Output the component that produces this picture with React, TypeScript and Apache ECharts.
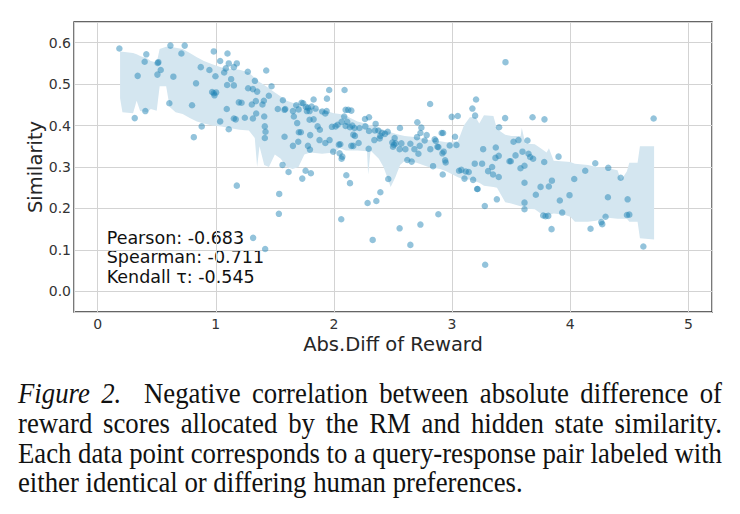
import React, { useEffect, useRef } from "react";
import * as echarts from "echarts";

// ---------------- data ----------------
const rewardDiff = [
  0.184, 0.412, 0.398, 0.514, 0.508, 0.534, 0.506, 0.339, 0.314, 0.404,
  0.616, 0.737, 0.709, 0.641, 0.607, 0.799, 0.814, 0.881, 0.833, 0.873,
  0.946, 0.983, 0.997, 0.969, 0.983, 1.003, 0.989, 1.037, 1.071, 1.099,
  1.11, 1.085, 1.153, 1.178, 1.13, 1.096, 1.153, 1.093, 1.037, 1.11,
  1.153, 1.169, 1.178, 1.195, 1.218, 1.246, 1.271, 1.274, 1.314, 1.35,
  1.331, 1.305, 1.339, 1.314, 1.342, 1.407, 1.395, 1.427, 1.472, 1.449,
  1.41, 1.415, 1.421, 1.415, 1.316, 1.418, 1.525, 1.568, 1.582, 1.588,
  1.582, 1.565, 1.616, 1.537, 1.534, 1.653, 1.661, 1.681, 1.701, 1.653,
  1.698, 1.703, 1.72, 1.689, 1.726, 1.74, 1.763, 1.78, 1.771, 1.794,
  1.811, 1.828, 1.845, 1.794, 1.828, 1.799, 1.78, 1.797, 1.76, 1.805,
  1.732, 1.862, 1.881, 1.901, 1.938, 1.927, 1.941, 1.96, 1.878, 1.927,
  1.963, 1.983, 2.014, 2.031, 1.994, 2.042, 2.054, 2.048, 2.065, 2.071,
  2.09, 2.065, 2.087, 2.099, 2.121, 2.147, 2.113, 2.099, 2.136, 2.155,
  2.175, 2.164, 2.178, 2.147, 2.164, 2.105, 2.136, 2.062, 2.209, 2.216,
  2.263, 2.297, 2.266, 2.297, 2.294, 2.285, 2.359, 2.328, 2.353, 2.347,
  2.342, 2.376, 2.393, 2.387, 2.407, 2.432, 2.455, 2.393, 2.46, 2.494,
  2.514, 2.5, 2.523, 2.508, 2.559, 2.571, 2.556, 2.605, 2.621, 2.658,
  2.647, 2.681, 2.703, 2.715, 2.732, 2.74, 2.706, 2.726, 2.768, 2.785,
  2.816, 2.814, 2.853, 2.862, 2.876, 2.839, 2.884, 2.912, 2.924, 2.918,
  2.929, 2.941, 2.946, 2.921, 2.98, 3.025, 3.037, 2.997, 3.048, 3.059,
  3.079, 3.116, 3.141, 3.105, 3.178, 3.212, 3.216, 3.192, 3.254, 3.172,
  3.195, 3.203, 3.263, 3.305, 3.339, 3.347, 3.395, 3.367, 3.37, 3.395,
  3.398, 3.449, 3.452, 3.277, 3.379, 3.28, 3.486, 3.497, 3.52, 3.537,
  3.562, 3.579, 3.596, 3.613, 3.613, 3.613, 3.613, 3.638, 3.647, 3.661,
  3.686, 3.681, 3.709, 3.749, 3.78, 3.782, 3.771, 3.791, 3.814, 3.819,
  3.845, 3.842, 3.901, 3.912, 3.932, 3.994, 4.034, 4.127, 4.172, 4.212,
  4.263, 4.271, 4.299, 4.322, 4.319, 4.427, 4.486, 4.48, 4.5, 4.619,
  4.706, 2.556, 2.647, 2.732, 2.884,
];

const similarity = [
  0.586, 0.572, 0.554, 0.553, 0.551, 0.534, 0.523, 0.52, 0.418, 0.435,
  0.593, 0.593, 0.574, 0.518, 0.454, 0.449, 0.372, 0.398, 0.502, 0.541,
  0.534, 0.579, 0.519, 0.481, 0.478, 0.48, 0.473, 0.556, 0.528, 0.574,
  0.55, 0.538, 0.541, 0.55, 0.512, 0.498, 0.497, 0.44, 0.41, 0.391,
  0.417, 0.415, 0.255, 0.456, 0.455, 0.419, 0.53, 0.49, 0.488, 0.482,
  0.508, 0.451, 0.459, 0.417, 0.429, 0.46, 0.451, 0.533, 0.495, 0.472,
  0.422, 0.398, 0.385, 0.37, 0.129, 0.102, 0.44, 0.461, 0.438, 0.44,
  0.373, 0.305, 0.288, 0.235, 0.187, 0.435, 0.422, 0.449, 0.439, 0.351,
  0.361, 0.384, 0.384, 0.406, 0.455, 0.454, 0.445, 0.443, 0.435, 0.435,
  0.446, 0.463, 0.441, 0.414, 0.415, 0.377, 0.351, 0.342, 0.291, 0.285,
  0.272, 0.398, 0.39, 0.434, 0.435, 0.429, 0.465, 0.486, 0.365, 0.358,
  0.365, 0.397, 0.398, 0.402, 0.337, 0.354, 0.355, 0.333, 0.32, 0.325,
  0.486, 0.409, 0.422, 0.438, 0.438, 0.436, 0.409, 0.399, 0.396, 0.4,
  0.394, 0.378, 0.375, 0.351, 0.351, 0.28, 0.261, 0.174, 0.358, 0.394,
  0.416, 0.42, 0.398, 0.387, 0.344, 0.213, 0.218, 0.124, 0.404, 0.388,
  0.365, 0.388, 0.375, 0.369, 0.382, 0.38, 0.385, 0.239, 0.271, 0.359,
  0.37, 0.349, 0.357, 0.354, 0.394, 0.357, 0.343, 0.343, 0.317, 0.313,
  0.356, 0.343, 0.372, 0.332, 0.382, 0.395, 0.408, 0.351, 0.364, 0.377,
  0.343, 0.452, 0.367, 0.363, 0.349, 0.302, 0.348, 0.382, 0.382, 0.333,
  0.337, 0.316, 0.311, 0.282, 0.352, 0.373, 0.353, 0.421, 0.423, 0.291,
  0.293, 0.289, 0.288, 0.272, 0.269, 0.247, 0.247, 0.308, 0.308, 0.441,
  0.424, 0.463, 0.343, 0.29, 0.3, 0.282, 0.276, 0.322, 0.347, 0.327,
  0.396, 0.418, 0.553, 0.206, 0.222, 0.064, 0.314, 0.314, 0.361, 0.328,
  0.365, 0.297, 0.337, 0.303, 0.262, 0.214, 0.198, 0.364, 0.332, 0.324,
  0.32, 0.42, 0.233, 0.252, 0.312, 0.415, 0.183, 0.181, 0.182, 0.253,
  0.267, 0.15, 0.325, 0.219, 0.19, 0.232, 0.271, 0.291, 0.151, 0.309,
  0.167, 0.162, 0.18, 0.298, 0.227, 0.274, 0.222, 0.184, 0.185, 0.108,
  0.417, 0.152, 0.112, 0.161, 0.186,
];

// rolling band (lower / upper edges)
const bandX = [
  0.19, 0.21, 0.3, 0.33, 0.36, 0.42, 0.45, 0.5, 0.525, 0.58,
  0.61, 0.66, 0.72, 0.78, 0.84, 0.9, 0.97, 1.05, 1.1, 1.2,
  1.28, 1.33, 1.35, 1.37, 1.41, 1.45, 1.5, 1.55, 1.6, 1.65,
  1.7, 1.75, 1.8, 1.9, 2.0, 2.05, 2.1, 2.2, 2.28, 2.29,
  2.31, 2.38, 2.42, 2.48, 2.52, 2.56, 2.6, 2.7, 2.8, 2.9,
  2.95, 3.05, 3.1, 3.15, 3.2, 3.23, 3.27, 3.35, 3.38, 3.45,
  3.5, 3.58, 3.59, 3.62, 3.7, 3.75, 3.8, 3.82, 3.86, 3.95,
  4.0, 4.04, 4.15, 4.22, 4.3, 4.4, 4.43, 4.48, 4.5, 4.57,
  4.59, 4.71,
];
const bandLow = [
  0.466, 0.432, 0.43, 0.46, 0.435, 0.432, 0.44, 0.436, 0.495, 0.495,
  0.445, 0.432, 0.428, 0.418, 0.41, 0.405, 0.4, 0.398, 0.395, 0.39,
  0.388, 0.37, 0.3, 0.35, 0.305, 0.3, 0.33, 0.32, 0.3, 0.295,
  0.3, 0.33, 0.335, 0.332, 0.335, 0.345, 0.34, 0.34, 0.338, 0.282,
  0.34, 0.32, 0.3, 0.252, 0.275, 0.305, 0.315, 0.31, 0.3, 0.295,
  0.29, 0.275, 0.27, 0.27, 0.265, 0.262, 0.255, 0.252, 0.25, 0.215,
  0.212, 0.205, 0.205, 0.2, 0.198, 0.188, 0.185, 0.185, 0.188, 0.185,
  0.18, 0.168, 0.168, 0.17, 0.178, 0.175, 0.175, 0.175, 0.168, 0.168,
  0.128, 0.125,
];
const bandHigh = [
  0.578, 0.578, 0.575, 0.572, 0.568, 0.562, 0.556, 0.552, 0.585, 0.59,
  0.59, 0.588, 0.585, 0.575, 0.565, 0.556, 0.548, 0.54, 0.537, 0.535,
  0.528, 0.515, 0.51, 0.505, 0.498, 0.49, 0.48, 0.47, 0.46, 0.455,
  0.452, 0.448, 0.444, 0.438, 0.43, 0.428, 0.424, 0.41, 0.404, 0.402,
  0.4, 0.394, 0.39, 0.384, 0.38, 0.377, 0.375, 0.372, 0.365, 0.362,
  0.36, 0.362, 0.4, 0.42, 0.42, 0.405, 0.425, 0.423, 0.392, 0.378,
  0.375, 0.375, 0.395, 0.357, 0.355, 0.345, 0.335, 0.345, 0.315, 0.313,
  0.312, 0.308, 0.305, 0.3, 0.298, 0.292, 0.268, 0.29, 0.31, 0.31,
  0.35, 0.35,
];

const xTicks = [0, 1, 2, 3, 4, 5];
const yTicks = [0.0, 0.1, 0.2, 0.3, 0.4, 0.5, 0.6];
const statLines = ["Pearson: -0.683", "Spearman: -0.711", "Kendall τ: -0.545"];
const xName = "Abs.Diff of Reward";
const yName = "Similarity";

const captionLabel = ["Figure", "2."];
const captionLines = [
  "Negative correlation between absolute difference of",
  "reward scores allocated by the RM and hidden state similarity.",
  "Each data point corresponds to a query-response pair labeled with",
  "either identical or differing human preferences.",
];

// ---------------- layout helpers ----------------
const SERIF = "Liberation Serif";
const CAP_SIZE = 29;

function measure(text: string, italic = false) {
  const ctx = document.createElement("canvas").getContext("2d")!;
  ctx.font = `${italic ? "italic " : ""}${CAP_SIZE}px "${SERIF}"`;
  return ctx.measureText(text).width;
}

function buildCaption() {
  const left = 18;
  const right = 722;
  const baselines = [403.3, 433.3, 462.7, 491.7];
  const sx = 505 / measure(captionLines[3]);
  const els: any[] = [];
  const mk = (t: string, x: number, base: number, italic: boolean) => ({
    type: "text",
    x,
    y: base - CAP_SIZE * 0.338,
    scaleX: sx,
    silent: true,
    style: {
      x: 0,
      y: 0,
      text: t,
      fontFamily: SERIF,
      fontSize: CAP_SIZE,
      fontStyle: italic ? "italic" : "normal",
      fill: "#111",
      align: "left",
      verticalAlign: "middle",
    },
  });
  for (let li = 0; li < 4; li++) {
    const base = baselines[li];
    if (li === 3) {
      els.push(mk(captionLines[3], left, base, false));
      continue;
    }
    const tokens: { t: string; it: boolean; w: number }[] = [];
    const weights: number[] = [];
    if (li === 0) {
      captionLabel.forEach((t) => tokens.push({ t, it: true, w: 0 }));
    }
    captionLines[li].split(" ").forEach((t) => tokens.push({ t, it: false, w: 0 }));
    tokens.forEach((tk) => (tk.w = measure(tk.t, tk.it) * sx));
    for (let i = 0; i < tokens.length - 1; i++) {
      weights.push(li === 0 && i === 1 ? 2 : 1);
    }
    const sumW = tokens.reduce((a, b) => a + b.w, 0);
    const sumG = weights.reduce((a, b) => a + b, 0);
    const g = (right - left - sumW) / sumG;
    let x = left;
    tokens.forEach((tk, i) => {
      els.push(mk(tk.t, x, base, tk.it));
      x += tk.w + (i < weights.length ? weights[i] * g : 0);
    });
  }
  return els;
}

function isTick(v: number, ticks: number[]) {
  return ticks.some((t) => Math.abs(t - v) < 1e-9);
}

export default function App() {
  const ref = useRef<HTMLDivElement>(null);
  useEffect(() => {
    document.body.style.margin = "0";
    const chart = echarts.init(ref.current!, undefined, { renderer: "svg" });
    const labelFont = "DejaVu Sans";
    const statEls = statLines.map((t, i) => ({
      type: "text",
      x: 106.7,
      y: 237.7 + i * 19.5,
      silent: true,
      style: {
        text: t,
        fontFamily: labelFont,
        fontSize: 17.5,
        fill: "#111",
        align: "left",
        verticalAlign: "middle",
      },
    }));
    chart.setOption({
      animation: false,
      backgroundColor: "#ffffff",
      grid: {
        left: 74,
        top: 22,
        width: 638,
        height: 290,
        show: true,
        borderColor: "#333333",
        borderWidth: 1.3,
        backgroundColor: "transparent",
        containLabel: false,
        outerBoundsMode: "none",
      },
      xAxis: {
        type: "value",
        min: -0.2,
        max: 5.2,
        splitNumber: 5,
        name: xName,
        nameLocation: "middle",
        nameGap: 22,
        nameMoveOverlap: false,
        nameTextStyle: { fontSize: 19.5, color: "#262626", fontFamily: labelFont },
        axisLine: { show: false },
        axisTick: { show: false },
        splitLine: { show: true, lineStyle: { color: "#d3d3d3", width: 1 } },
        axisLabel: {
          color: "#333",
          fontSize: 14,
          fontFamily: labelFont,
          margin: 5,
          showMinLabel: false,
          showMaxLabel: false,
          formatter: (v: number) => (isTick(v, xTicks) ? String(Math.round(v)) : ""),
        },
      },
      yAxis: {
        type: "value",
        min: -0.05,
        max: 0.65,
        splitNumber: 7,
        name: yName,
        nameLocation: "middle",
        nameRotate: 90,
        nameGap: 29,
        nameMoveOverlap: false,
        nameTextStyle: { fontSize: 19.5, color: "#262626", fontFamily: labelFont },
        axisLine: { show: false },
        axisTick: { show: false },
        splitLine: { show: true, lineStyle: { color: "#d3d3d3", width: 1 } },
        axisLabel: {
          color: "#333",
          fontSize: 14,
          fontFamily: labelFont,
          margin: 3,
          showMinLabel: false,
          showMaxLabel: false,
          formatter: (v: number) => (isTick(v, yTicks) ? v.toFixed(1) : ""),
        },
      },
      series: [
        {
          type: "custom",
          silent: true,
          data: bandX.map((x, i) => [x, bandLow[i], bandHigh[i]]),
          encode: { x: 0, y: [1, 2] },
          renderItem: (params: any, api: any) => {
            if (params.dataIndex !== 0) return null;
            const top = bandX.map((x, i) => api.coord([x, bandHigh[i]]));
            const bot = bandX.map((x, i) => api.coord([x, bandLow[i]])).reverse();
            return {
              type: "polygon",
              shape: { points: top.concat(bot) },
              style: { fill: "#d4e6f0" },
            };
          },
        },
        {
          type: "scatter",
          data: rewardDiff.map((x, i) => [x, similarity[i]]),
          symbolSize: 6.5,
          itemStyle: { color: "rgba(30,130,180,0.6)", borderWidth: 0 },
        },
      ],
      graphic: [...statEls, ...buildCaption()],
    });
    return () => chart.dispose();
  }, []);
  return <div ref={ref} style={{ width: 740, height: 514 }} />;
}
